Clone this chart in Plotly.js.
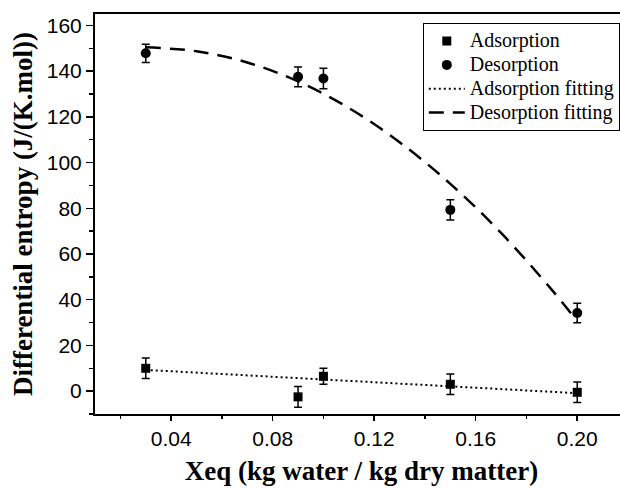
<!DOCTYPE html>
<html>
<head>
<meta charset="utf-8">
<script src="https://cdn.plot.ly/plotly-3.0.1.min.js"></script>
<style>
html,body{margin:0;padding:0;overflow:hidden;background:#fff;}
#chart{width:640px;height:488px;}
</style>
</head>
<body>
<div id="chart"></div>
<script>
// Measured data
var xeq = [0.03, 0.09, 0.10, 0.15, 0.20];
var adsorption = [10, -2.5, 6.5, 3, -0.5];
var adsorptionErr = [4.5, 4.5, 3.5, 4.5, 4.5];
var desorption = [147.8, 137.5, 136.8, 79.3, 34.2];
var desorptionErr = [4, 4.3, 4.5, 4.4, 4.3];

// Fitted curves
var adsFitX = [0.03, 0.20];
var adsFitY = [9.3, -0.9];
var desFitX = [0.03, 0.05, 0.07, 0.09, 0.11, 0.13, 0.15, 0.17, 0.19, 0.20];
var desFitY = [150.4, 148.7, 143.8, 135.5, 123.9, 108.9, 90.7, 69.2, 44.3, 30.6];

var seriesNames = ['Adsorption', 'Desorption', 'Adsorption fitting', 'Desorption fitting'];
var xTicks = [0.04, 0.08, 0.12, 0.16, 0.20];
var xTickText = ['0.04', '0.08', '0.12', '0.16', '0.20'];
var yTicks = [0, 20, 40, 60, 80, 100, 120, 140, 160];

function legName(s) { return '<span style="font-size:20px">' + s + '</span>'; }

var traces = [
  {
    x: xeq, y: adsorption, name: legName(seriesNames[0]), type: 'scatter', mode: 'markers',
    marker: {symbol: 'square', size: 9, color: '#000'},
    error_y: {type: 'data', array: adsorptionErr, visible: true, color: '#000', thickness: 1.5, width: 4}
  },
  {
    x: xeq, y: desorption, name: legName(seriesNames[1]), type: 'scatter', mode: 'markers',
    marker: {symbol: 'circle', size: 10, color: '#000'},
    error_y: {type: 'data', array: desorptionErr, visible: true, color: '#000', thickness: 1.5, width: 4}
  },
  {
    x: adsFitX, y: adsFitY, name: legName(seriesNames[2]), type: 'scatter', mode: 'lines',
    line: {color: '#000', width: 2, dash: '2px,3px'}
  },
  {
    x: desFitX, y: desFitY, name: legName(seriesNames[3]), type: 'scatter', mode: 'lines',
    line: {color: '#000', width: 2.5, dash: '15px,9px', shape: 'spline'}
  }
];

var layout = {
  width: 640, height: 488,
  margin: {l: 95, r: 12, t: 14, b: 74},
  paper_bgcolor: '#fff', plot_bgcolor: '#fff',
  showlegend: true,
  legend: {
    x: 0.615, y: 0.977, xanchor: 'left', yanchor: 'top',
    bgcolor: '#fff', bordercolor: '#000', borderwidth: 1,
    font: {family: '"Liberation Serif", "Times New Roman", serif', size: 16, color: '#000'},
    itemwidth: 36,
    tracegroupgap: 0
  },
  xaxis: {
    range: [0.01, 0.22],
    tickmode: 'array', tickvals: xTicks, ticktext: xTickText,
    ticks: 'outside', ticklen: 5, tickwidth: 1.5, tickcolor: '#000',
    minor: {dtick: 0.02, tick0: 0, ticks: 'outside', ticklen: 3, tickwidth: 1.5, tickcolor: '#000'},
    showline: true, linecolor: '#000', linewidth: 2, mirror: true,
    showgrid: false, zeroline: false,
    tickfont: {family: 'Arial, "Liberation Sans", sans-serif', size: 21, color: '#000'},
    title: {text: '<b>Xeq (kg water / kg dry matter)</b>', standoff: 12,
      font: {family: '"Liberation Serif", "Times New Roman", serif', size: 27, color: '#000'}},
    automargin: false
  },
  yaxis: {
    range: [-10, 165],
    tickmode: 'array', tickvals: yTicks,
    ticks: 'outside', ticklen: 7, tickwidth: 1.5, tickcolor: '#000',
    minor: {dtick: 10, tick0: 0, ticks: 'outside', ticklen: 4, tickwidth: 1.5, tickcolor: '#000'},
    showline: true, linecolor: '#000', linewidth: 2, mirror: true,
    showgrid: false, zeroline: false,
    tickfont: {family: 'Arial, "Liberation Sans", sans-serif', size: 21, color: '#000'},
    title: {text: '<b>Differential entropy (J/(K.mol))</b>', standoff: 6,
      font: {family: '"Liberation Serif", "Times New Roman", serif', size: 27, color: '#000'}},
    automargin: false
  }
};

Plotly.newPlot('chart', traces, layout, {displayModeBar: false, staticPlot: true});
</script>
</body>
</html>
